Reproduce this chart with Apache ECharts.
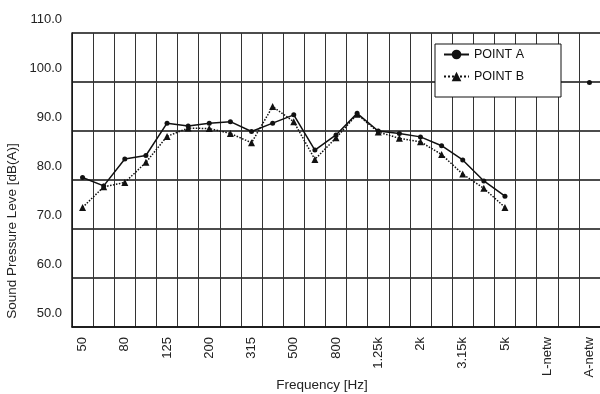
<!DOCTYPE html>
<html>
<head>
<meta charset="utf-8">
<script src="https://cdn.jsdelivr.net/npm/echarts@6/dist/echarts.min.js"></script>
<style>html,body{margin:0;padding:0;background:#fff}#c{width:600px;height:394px}</style>
</head>
<body>
<div id="c"></div>
<script>
var categories = ['50','63','80','100','125','160','200','250','315','400','500','630','800','1k','1.25k','1.6k','2k','2.5k','3.15k','4k','5k','6.3k','L-netw','Lin','A-netw'];
var pointA = [77.6,75.9,81.4,82.1,88.7,88.1,88.7,89.0,87.0,88.7,90.4,83.2,86.3,90.7,87.1,86.6,85.9,84.1,81.2,76.9,73.8,null,null,null,97.0];
var pointB = [71.5,75.7,76.6,80.7,86.0,87.7,87.6,86.6,84.7,92.1,89.0,81.3,85.7,90.5,86.9,85.6,84.9,82.3,78.3,75.4,71.5,null,null,null,null];
var yTickLabels = ['50.0','60.0','70.0','80.0','90.0','100.0','110.0'];

var font = 'Liberation Sans, Arial, sans-serif';
var chart = echarts.init(document.getElementById('c'));
chart.setOption({
  animation: false,
  backgroundColor: '#fff',
  grid: {left: 72, top: 33, right: -3, bottom: 67},
  legend: {
    orient: 'vertical', left: 435, top: 44,
    backgroundColor: '#fff', borderColor: '#111', borderWidth: 1,
    padding: [4, 37, 14, 8], itemGap: 9, itemWidth: 25, itemHeight: 12,
    textStyle: {fontFamily: font, fontSize: 12.5, color: '#111'},
    data: ['POINT A', 'POINT B']
  },
  xAxis: {
    type: 'category', data: categories, boundaryGap: true,
    axisLine: {show: true, lineStyle: {color: '#111', width: 1.5}},
    axisTick: {show: false},
    axisLabel: {interval: 1, rotate: 90, margin: 10, fontFamily: font, fontSize: 13, color: '#222'},
    splitLine: {show: true, interval: 0, lineStyle: {color: '#333', width: 1}}
  },
  yAxis: {
    type: 'value', min: 47.1, max: 107.1, interval: 10,
    axisLine: {show: true, lineStyle: {color: '#111', width: 1.5}},
    axisTick: {show: false},
    axisLabel: {
      margin: 10, color: '#222',
      formatter: function (v, i) { return '{a|' + yTickLabels[i] + '}\n{b|}'; },
      rich: {
        a: {fontFamily: font, fontSize: 13, lineHeight: 14, color: '#222', align: 'right'},
        b: {lineHeight: 28, height: 28}
      }
    },
    splitLine: {show: true, lineStyle: {color: '#111', width: 1.5}}
  },
  series: [
    {
      name: 'POINT A', type: 'line', data: pointA, connectNulls: false,
      symbol: 'circle', symbolSize: 5,
      lineStyle: {color: '#111', width: 1.5, type: 'solid'},
      itemStyle: {color: '#111'}
    },
    {
      name: 'POINT B', type: 'line', data: pointB, connectNulls: false,
      symbol: 'triangle', symbolSize: 7,
      lineStyle: {color: '#111', width: 1.5, type: 'dotted'},
      itemStyle: {color: '#111'}
    }
  ],
  graphic: [
    {type: 'text', x: 12, y: 231, rotation: Math.PI / 2,
     style: {text: 'Sound Pressure Leve [dB(A)]', fontFamily: font, fontSize: 13.5, fill: '#222', textAlign: 'center', textVerticalAlign: 'middle'}},
    {type: 'text', x: 322, y: 385,
     style: {text: 'Frequency [Hz]', fontFamily: font, fontSize: 13.5, fill: '#222', textAlign: 'center', textVerticalAlign: 'middle'}}
  ]
});
</script>
</body>
</html>
